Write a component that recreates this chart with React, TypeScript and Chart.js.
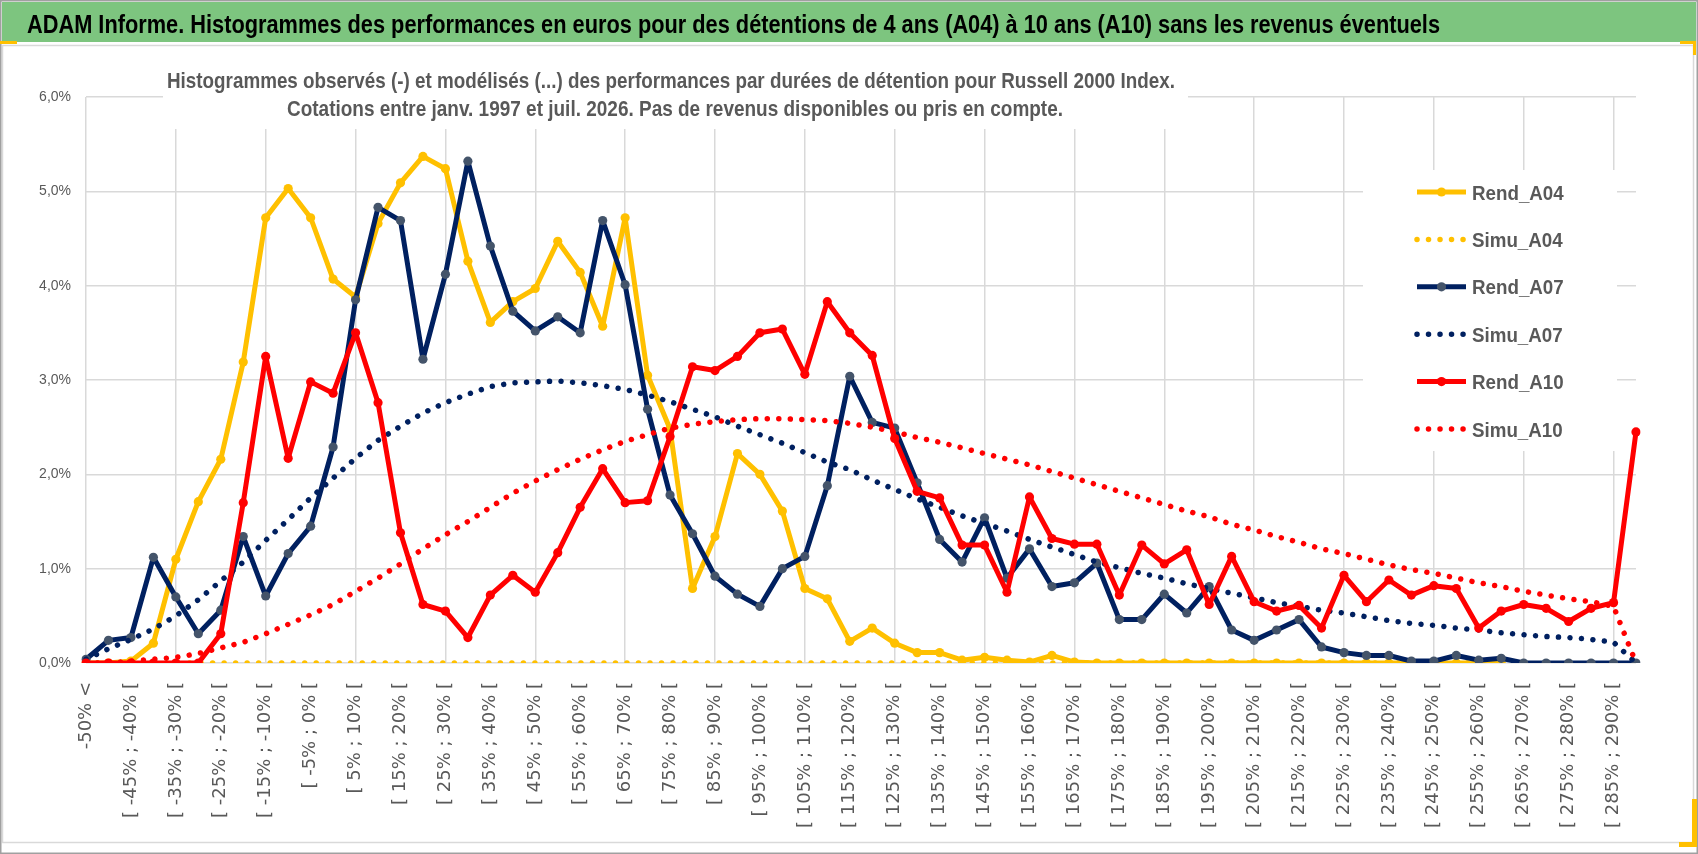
import { useEffect, useRef } from 'react';
import { Chart, registerables } from 'chart.js';

Chart.register(...registerables);

const TITLE =
  'ADAM Informe. Histogrammes des performances en euros pour des détentions de 4 ans (A04) à 10 ans (A10) sans les revenus éventuels';
const SUBTITLE_1 =
  'Histogrammes observés (-) et modélisés (...) des performances par durées de détention pour Russell 2000 Index.';
const SUBTITLE_2 =
  'Cotations entre janv. 1997 et juil. 2026. Pas de revenus disponibles ou pris en compte.';

const categories: string[] = [
  '-50% <', '[ -50% ; -45% [', '[ -45% ; -40% [', '[ -40% ; -35% [', '[ -35% ; -30% [',
  '[ -30% ; -25% [', '[ -25% ; -20% [', '[ -20% ; -15% [', '[ -15% ; -10% [', '[ -10% ; -5% [',
  '[ -5% ; 0% [', '[ 0% ; 5% [', '[ 5% ; 10% [', '[ 10% ; 15% [', '[ 15% ; 20% [',
  '[ 20% ; 25% [', '[ 25% ; 30% [', '[ 30% ; 35% [', '[ 35% ; 40% [', '[ 40% ; 45% [',
  '[ 45% ; 50% [', '[ 50% ; 55% [', '[ 55% ; 60% [', '[ 60% ; 65% [', '[ 65% ; 70% [',
  '[ 70% ; 75% [', '[ 75% ; 80% [', '[ 80% ; 85% [', '[ 85% ; 90% [', '[ 90% ; 95% [',
  '[ 95% ; 100% [', '[ 100% ; 105% [', '[ 105% ; 110% [', '[ 110% ; 115% [', '[ 115% ; 120% [',
  '[ 120% ; 125% [', '[ 125% ; 130% [', '[ 130% ; 135% [', '[ 135% ; 140% [', '[ 140% ; 145% [',
  '[ 145% ; 150% [', '[ 150% ; 155% [', '[ 155% ; 160% [', '[ 160% ; 165% [', '[ 165% ; 170% [',
  '[ 170% ; 175% [', '[ 175% ; 180% [', '[ 180% ; 185% [', '[ 185% ; 190% [', '[ 190% ; 195% [',
  '[ 195% ; 200% [', '[ 200% ; 205% [', '[ 205% ; 210% [', '[ 210% ; 215% [', '[ 215% ; 220% [',
  '[ 220% ; 225% [', '[ 225% ; 230% [', '[ 230% ; 235% [', '[ 235% ; 240% [', '[ 240% ; 245% [',
  '[ 245% ; 250% [', '[ 250% ; 255% [', '[ 255% ; 260% [', '[ 260% ; 265% [', '[ 265% ; 270% [',
  '[ 270% ; 275% [', '[ 275% ; 280% [', '[ 280% ; 285% [', '[ 285% ; 290% [', '> 290%',
];

// values in percent
const rendA04: (number | null)[] = [
  0, 0, 0.02, 0.21, 1.1, 1.71, 2.16, 3.19, 4.72, 5.03,
  4.72, 4.07, 3.88, 4.66, 5.09, 5.37, 5.24, 4.26, 3.61, 3.83,
  3.97, 4.47, 4.14, 3.57, 4.72, 3.05, 2.48, 0.79, 1.34, 2.22,
  2.0, 1.61, 0.79, 0.68, 0.23, 0.37, 0.21, 0.11, 0.11, 0.03,
  0.06, 0.03, 0.01, 0.08, 0.01, 0, 0, 0, 0, 0,
  0, 0, 0, 0, 0, 0, 0, 0, 0, 0,
  0, 0, 0, 0, null, null, null, null, null, null,
];
const simuA04: (number | null)[] = [
  0, 0, 0, 0, 0, 0, 0, 0, 0, 0,
  0, 0, 0, 0, 0, 0, 0, 0, 0, 0,
  0, 0, 0, 0, 0, 0, 0, 0, 0, 0,
  0, 0, 0, 0, 0, 0, 0, 0, 0, 0,
  0, 0, 0, 0, 0, 0, 0, 0, 0, 0,
  0, 0, 0, 0, 0, 0, 0, 0, 0, 0,
  0, 0, 0, 0, null, null, null, null, null, null,
];
const rendA07: number[] = [
  0.04, 0.24, 0.27, 1.12, 0.7, 0.31, 0.56, 1.34, 0.71, 1.16,
  1.45, 2.29, 3.85, 4.83, 4.69, 3.22, 4.12, 5.32, 4.42, 3.73,
  3.52, 3.67, 3.5, 4.69, 4.01, 2.69, 1.78, 1.37, 0.92, 0.73,
  0.6, 1.0, 1.13, 1.88, 3.04, 2.55, 2.49, 1.91, 1.31, 1.07,
  1.54, 0.9, 1.21, 0.81, 0.85, 1.06, 0.46, 0.46, 0.73, 0.53,
  0.81, 0.35, 0.24, 0.35, 0.46, 0.17, 0.11, 0.08, 0.08, 0.02,
  0.02, 0.08, 0.03, 0.05, 0, 0, 0, 0, 0, 0,
];
const simuA07: number[] = [
  0.04, 0.15, 0.25, 0.36, 0.5, 0.67, 0.87, 1.07, 1.3, 1.52,
  1.75, 1.96, 2.17, 2.36, 2.51, 2.65, 2.76, 2.85, 2.93, 2.97,
  2.98, 2.99, 2.97, 2.94, 2.9, 2.84, 2.77, 2.69, 2.61, 2.51,
  2.42, 2.33, 2.23, 2.13, 2.05, 1.94, 1.84, 1.74, 1.65, 1.56,
  1.48, 1.4, 1.31, 1.23, 1.15, 1.07, 1.01, 0.95, 0.9, 0.84,
  0.79, 0.74, 0.69, 0.64, 0.6, 0.56, 0.53, 0.49, 0.45, 0.42,
  0.4, 0.37, 0.35, 0.32, 0.3, 0.28, 0.27, 0.25, 0.22, 0,
];
const rendA10: number[] = [
  0, 0, 0, 0, 0, 0, 0.31, 1.7, 3.25, 2.17,
  2.98, 2.86, 3.5, 2.76, 1.38, 0.62, 0.55, 0.27, 0.72, 0.93,
  0.75, 1.17, 1.65, 2.06, 1.7, 1.72, 2.4, 3.14, 3.1, 3.25,
  3.5, 3.54, 3.06, 3.83, 3.5, 3.26, 2.38, 1.82, 1.75, 1.25,
  1.25, 0.75, 1.76, 1.32, 1.26, 1.26, 0.72, 1.25, 1.05, 1.2,
  0.62, 1.13, 0.65, 0.55, 0.61, 0.37, 0.93, 0.65, 0.88, 0.72,
  0.82, 0.79, 0.37, 0.55, 0.62, 0.58, 0.44, 0.58, 0.64, 2.45,
];
const simuA10: number[] = [
  0, 0, 0.02, 0.04, 0.06, 0.1, 0.16, 0.22, 0.31, 0.41,
  0.51, 0.62, 0.76, 0.9, 1.05, 1.21, 1.36, 1.5, 1.65, 1.8,
  1.93, 2.05, 2.16, 2.26, 2.35, 2.42, 2.49, 2.53, 2.56, 2.58,
  2.59, 2.59, 2.58, 2.57, 2.54, 2.5, 2.45, 2.39, 2.34, 2.28,
  2.22, 2.16, 2.1, 2.03, 1.96, 1.89, 1.82, 1.75, 1.68, 1.61,
  1.55, 1.47, 1.41, 1.34, 1.28, 1.21, 1.16, 1.1, 1.04, 0.99,
  0.95, 0.9, 0.85, 0.81, 0.76, 0.72, 0.68, 0.65, 0.6, 0,
];

const yTicks: number[] = [0, 1, 2, 3, 4, 5, 6];

const YELLOW = '#FFC000';
const NAVY = '#002060';
const NAVY_MARKER = '#44546A';
const RED = '#FF0000';
const GREY_TEXT = '#595959';
const GRID = '#d9d9d9';
const DOT_DASH = [0.01, 11.5];
const LINE_W = 5;
const DOT_W = 5.5;
const MARKER_R = 4.6;

type SeriesStyle = { label: string; color: string; marker: string; dotted: boolean };
const seriesStyles: SeriesStyle[] = [
  { label: 'Rend_A04', color: YELLOW, marker: YELLOW, dotted: false },
  { label: 'Simu_A04', color: YELLOW, marker: YELLOW, dotted: true },
  { label: 'Rend_A07', color: NAVY, marker: NAVY_MARKER, dotted: false },
  { label: 'Simu_A07', color: NAVY, marker: NAVY, dotted: true },
  { label: 'Rend_A10', color: RED, marker: RED, dotted: false },
  { label: 'Simu_A10', color: RED, marker: RED, dotted: true },
];
const seriesData = [rendA04, simuA04, rendA07, simuA07, rendA10, simuA10];

function fitText(
  ctx: CanvasRenderingContext2D,
  text: string,
  x: number,
  y: number,
  scaleX: number,
  font: string,
  color: string,
) {
  ctx.save();
  ctx.font = font;
  ctx.fillStyle = color;
  ctx.textAlign = 'left';
  ctx.textBaseline = 'alphabetic';
  ctx.translate(x, y);
  ctx.scale(scaleX, 1);
  ctx.fillText(text, 0, 0);
  ctx.restore();
}

function scaleFor(ctx: CanvasRenderingContext2D, text: string, font: string, width: number) {
  ctx.save();
  ctx.font = font;
  const w = ctx.measureText(text).width;
  ctx.restore();
  return w > 0 ? width / w : 1;
}

const decorPlugin = {
  id: 'decor',
  beforeDraw(chart: any) {
    const { ctx, width, height } = chart;
    ctx.save();
    ctx.fillStyle = '#ffffff';
    ctx.fillRect(0, 0, width, height);
    // green title band
    ctx.fillStyle = '#7dc57f';
    ctx.fillRect(2, 2, width - 4, 40);
    // chart frame
    ctx.strokeStyle = GRID;
    ctx.lineWidth = 1.5;
    ctx.strokeRect(2.5, 45.5, 1691, 797);
    // outer frame
    ctx.strokeStyle = '#a0a0a0';
    ctx.lineWidth = 1.5;
    ctx.strokeRect(0.75, 0.75, width - 1.5, height - 1.5);
    // yellow corner marks
    ctx.fillStyle = YELLOW;
    ctx.fillRect(0, 41, 17, 3);
    ctx.fillRect(1680, 41, 16, 3);
    ctx.fillRect(1693, 41, 3, 14);
    ctx.fillRect(1692, 799, 5, 48);
    ctx.fillRect(1679, 842, 18, 5);
    ctx.restore();

    const titleFont = 'bold 25px "Liberation Sans", Arial, sans-serif';
    fitText(ctx, TITLE, 27, 33, scaleFor(ctx, TITLE, titleFont, 1413), titleFont, '#000000');
  },
  afterDraw(chart: any) {
    const { ctx } = chart;
    const area = chart.chartArea;

    // subtitle block (white box over the grid)
    ctx.save();
    ctx.fillStyle = '#ffffff';
    ctx.fillRect(163, 55, 1025, 74);
    ctx.restore();
    const subFont = 'bold 21.5px "Liberation Sans", Arial, sans-serif';
    fitText(ctx, SUBTITLE_1, 167, 87.5, scaleFor(ctx, SUBTITLE_1, subFont, 1008), subFont, GREY_TEXT);
    fitText(ctx, SUBTITLE_2, 287, 115.5, scaleFor(ctx, SUBTITLE_2, subFont, 776), subFont, GREY_TEXT);

    // legend block
    const boxLeft = area.right - 273;
    const boxTop = 170;
    ctx.save();
    ctx.fillStyle = '#ffffff';
    ctx.fillRect(boxLeft, boxTop, 254, 281);
    ctx.restore();

    const legFont = 'bold 20px "Liberation Sans", Arial, sans-serif';
    const legScale = scaleFor(ctx, 'Rend_A04', legFont, 91.7);
    const x1 = boxLeft + 54;
    const x2 = boxLeft + 103;
    seriesStyles.forEach((s, i) => {
      const base = 199.5 + i * 47.4;
      const yMid = base - 7.5;
      ctx.save();
      ctx.strokeStyle = s.color;
      ctx.lineWidth = s.dotted ? DOT_W : LINE_W;
      ctx.lineCap = s.dotted ? 'round' : 'butt';
      if (s.dotted) ctx.setLineDash(DOT_DASH);
      ctx.beginPath();
      ctx.moveTo(x1, yMid);
      ctx.lineTo(x2, yMid);
      ctx.stroke();
      if (!s.dotted) {
        ctx.setLineDash([]);
        ctx.fillStyle = s.marker;
        ctx.beginPath();
        ctx.arc((x1 + x2) / 2, yMid, MARKER_R, 0, Math.PI * 2);
        ctx.fill();
      }
      ctx.restore();
      fitText(ctx, s.label, boxLeft + 109, base, legScale, legFont, GREY_TEXT);
    });
  },
};

export default function App() {
  const canvasRef = useRef<HTMLCanvasElement>(null);
  const chartRef = useRef<Chart | null>(null);

  useEffect(() => {
    if (!canvasRef.current) return;
    if (chartRef.current) chartRef.current.destroy();

    const datasets = seriesStyles.map((s, i) => ({
      label: s.label,
      data: seriesData[i],
      borderColor: s.color,
      backgroundColor: s.marker,
      borderWidth: s.dotted ? DOT_W : LINE_W,
      borderDash: s.dotted ? DOT_DASH : [],
      borderCapStyle: s.dotted ? 'round' : 'butt',
      borderJoinStyle: 'round',
      pointRadius: s.dotted ? 0 : MARKER_R,
      pointHoverRadius: s.dotted ? 0 : MARKER_R,
      pointBackgroundColor: s.marker,
      pointBorderWidth: 0,
      tension: 0,
      fill: false,
      spanGaps: false,
      order: seriesStyles.length - i,
    }));

    chartRef.current = new Chart(canvasRef.current, {
      type: 'line',
      data: { labels: categories, datasets: datasets as any },
      options: {
        animation: false,
        responsive: false,
        maintainAspectRatio: false,
        layout: { padding: { left: 0, top: 97, right: 62, bottom: 0 } },
        plugins: {
          legend: { display: false },
          title: { display: false },
          tooltip: { enabled: false },
        },
        scales: {
          x: {
            type: 'category',
            offset: false,
            border: { display: false },
            grid: {
              offset: false,
              drawTicks: false,
              lineWidth: 1.5,
              color: (c: any) => (c.index % 4 === 0 ? GRID : 'rgba(0,0,0,0)'),
            },
            ticks: {
              autoSkip: false,
              maxRotation: 90,
              minRotation: 90,
              padding: 19,
              color: GREY_TEXT,
              font: { family: '"DejaVu Sans", sans-serif', size: 18 },
              callback: (_v: any, idx: number) => (idx % 2 === 0 ? categories[idx] : ''),
            },
            afterFit: (scale: any) => {
              scale.height = 854 - 663;
            },
          },
          y: {
            min: yTicks[0],
            max: yTicks[yTicks.length - 1],
            border: { display: false },
            grid: { drawTicks: false, color: GRID, lineWidth: 1.5 },
            ticks: {
              stepSize: 1,
              padding: 15,
              color: GREY_TEXT,
              font: { family: '"Liberation Sans", Arial, sans-serif', size: 14 },
              callback: (v: any) => Number(v).toFixed(1).replace('.', ',') + '%',
            },
            afterFit: (scale: any) => {
              scale.width = 86;
            },
          },
        },
      },
      plugins: [decorPlugin],
    });

    return () => {
      if (chartRef.current) {
        chartRef.current.destroy();
        chartRef.current = null;
      }
    };
  }, []);

  return (
    <div style={{ position: 'absolute', left: 0, top: 0, width: 1698, height: 854, background: '#ffffff' }}>
      <canvas ref={canvasRef} width={1698} height={854} style={{ display: 'block', width: 1698, height: 854 }} />
    </div>
  );
}
